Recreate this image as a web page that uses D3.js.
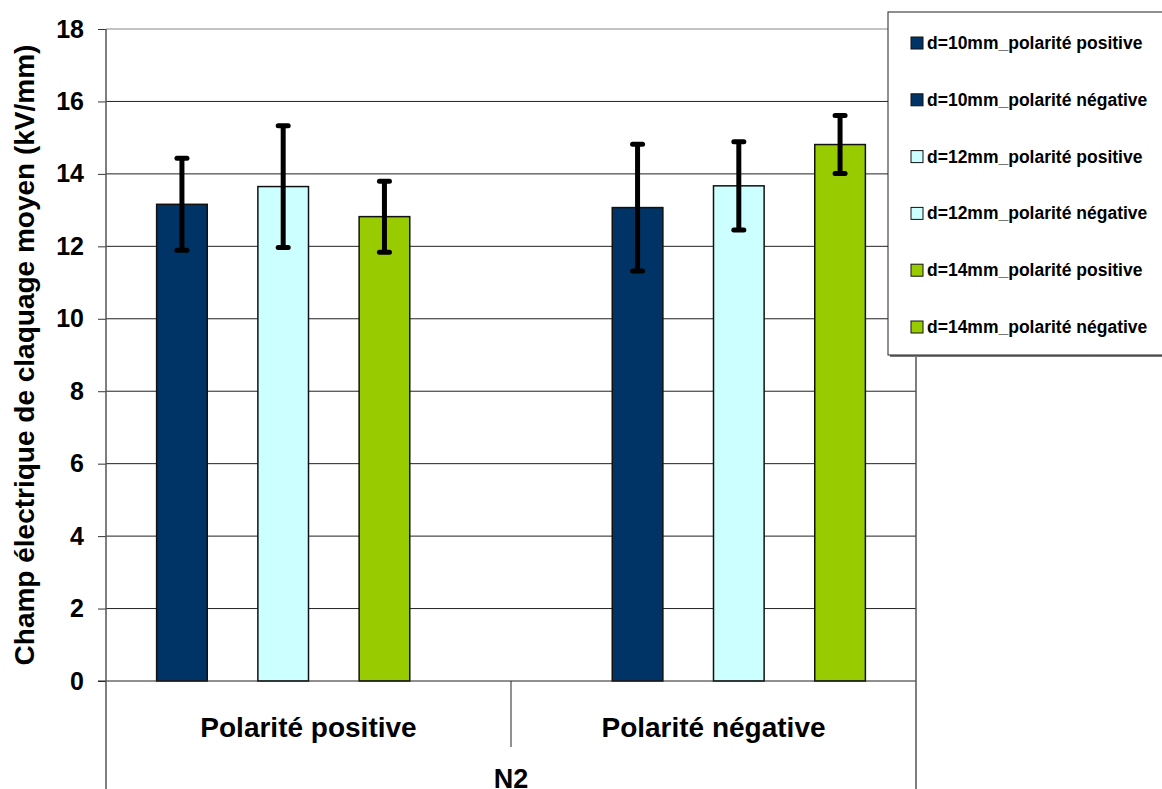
<!DOCTYPE html>
<html>
<head>
<meta charset="utf-8">
<script src="https://cdn.jsdelivr.net/npm/d3@7"></script>
<style>
  body { margin: 0; background: #fff; }
  svg { display: block; font-family: "Liberation Sans", Arial, sans-serif; }
</style>
</head>
<body>
<svg id="chart" width="1162" height="789"></svg>
<script>
// categories and series (Excel style: 6 series, each only filled in one category)
const categories = ["Polarité positive", "Polarité négative"];
const groupLabel = "N2";
const seriesNames = [
  "d=10mm_polarité positive",
  "d=10mm_polarité négative",
  "d=12mm_polarité positive",
  "d=12mm_polarité négative",
  "d=14mm_polarité positive",
  "d=14mm_polarité négative"
];
const seriesColors = ["#003366", "#003366", "#CCFFFF", "#CCFFFF", "#99CC00", "#99CC00"];
// mean value per series, [positive, negative]
const means = [
  [13.16, null],
  [null, 13.07],
  [13.65, null],
  [null, 13.67],
  [12.82, null],
  [null, 14.81]
];
// error bar half-width
const errors = [
  [1.27, null],
  [null, 1.75],
  [1.68, null],
  [null, 1.22],
  [0.98, null],
  [null, 0.80]
];
const yTicks = [0, 2, 4, 6, 8, 10, 12, 14, 16, 18];
const yTitle = "Champ électrique de claquage moyen (kV/mm)";

const svg = d3.select("#chart");
const plotL = 106, plotR = 916, plotT = 29, plotB = 681;

const x0 = d3.scaleBand().domain(categories).range([plotL, plotR]).padding(0);
const x1 = d3.scaleBand().domain(seriesNames).range([0, x0.bandwidth()])
  .paddingInner(0).paddingOuter(1);
const y = d3.scaleLinear().domain([0, 18]).range([plotB, plotT]);

// gridlines
svg.append("g").selectAll("line")
  .data(yTicks.filter(t => t > 0))
  .join("line")
  .attr("x1", plotL).attr("x2", plotR)
  .attr("y1", d => y(d)).attr("y2", d => y(d))
  .attr("stroke", d => d === 18 ? "#888" : "#222")
  .attr("stroke-width", 1);

// y axis
const yAxis = svg.append("g")
  .attr("transform", `translate(${plotL},0)`)
  .call(d3.axisLeft(y).tickValues(yTicks).tickSize(8).tickPadding(14).tickFormat(d3.format("d")));
yAxis.select(".domain").remove();
yAxis.selectAll(".tick line").attr("stroke", "#333");
yAxis.selectAll(".tick text")
  .attr("font-size", 25).attr("font-weight", "bold").attr("fill", "#000")
  .attr("font-family", "Liberation Sans, Arial, sans-serif");

// bars
const rows = [];
seriesNames.forEach((s, i) => {
  categories.forEach((c, j) => {
    if (means[i][j] != null) rows.push({ s, c, v: means[i][j], e: errors[i][j], color: seriesColors[i] });
  });
});

svg.append("g").selectAll("rect")
  .data(rows)
  .join("rect")
  .attr("x", d => x0(d.c) + x1(d.s))
  .attr("y", d => y(d.v))
  .attr("width", x1.bandwidth())
  .attr("height", d => y(0) - y(d.v))
  .attr("fill", d => d.color)
  .attr("stroke", "#111")
  .attr("stroke-width", 1.5);

// error bars
const eb = svg.append("g").selectAll("g").data(rows).join("g")
  .attr("transform", d => `translate(${x0(d.c) + x1(d.s) + x1.bandwidth() / 2},0)`);
eb.append("line")
  .attr("y1", d => y(d.v + d.e)).attr("y2", d => y(d.v - d.e))
  .attr("stroke", "#000").attr("stroke-width", 5);
eb.selectAll("line.cap").data(d => [d.v + d.e, d.v - d.e]).join("line")
  .attr("class", "cap")
  .attr("x1", -5).attr("x2", 5)
  .attr("y1", d => y(d)).attr("y2", d => y(d))
  .attr("stroke", "#000").attr("stroke-width", 5).attr("stroke-linecap", "round");

// zero line and frame
svg.append("line").attr("x1", plotL - 8).attr("x2", plotR)
  .attr("y1", y(0)).attr("y2", y(0)).attr("stroke", "#222").attr("stroke-width", 1.2);
svg.append("line").attr("x1", plotL).attr("x2", plotL)
  .attr("y1", plotT).attr("y2", 789).attr("stroke", "#555").attr("stroke-width", 1.5);
svg.append("line").attr("x1", plotR).attr("x2", plotR)
  .attr("y1", plotT).attr("y2", 789).attr("stroke", "#555").attr("stroke-width", 1.5);
// category divider
svg.append("line")
  .attr("x1", x0(categories[1])).attr("x2", x0(categories[1]))
  .attr("y1", y(0)).attr("y2", 747).attr("stroke", "#222").attr("stroke-width", 1);

// category labels
svg.append("g").selectAll("text")
  .data(categories)
  .join("text")
  .attr("x", d => x0(d) + x0.bandwidth() / 2)
  .attr("y", 737)
  .attr("text-anchor", "middle")
  .attr("font-size", 28).attr("font-weight", "bold")
  .text(d => d);

// outer category label
svg.append("text")
  .attr("x", (plotL + plotR) / 2).attr("y", 788)
  .attr("text-anchor", "middle")
  .attr("font-size", 27).attr("font-weight", "bold")
  .text(groupLabel);

// y title
svg.append("text")
  .attr("transform", `translate(34,${(plotT + plotB) / 2}) rotate(-90)`)
  .attr("text-anchor", "middle")
  .attr("font-size", 28).attr("font-weight", "bold")
  .text(yTitle);

// legend
const lg = svg.append("g").attr("transform", "translate(888,12)");
lg.append("rect").attr("x", 2).attr("y", 2).attr("width", 300).attr("height", 343).attr("fill", "#777");
lg.append("rect").attr("width", 300).attr("height", 343)
  .attr("fill", "#fff").attr("stroke", "#222").attr("stroke-width", 1);
const li = lg.selectAll("g.item").data(seriesNames).join("g")
  .attr("class", "item")
  .attr("transform", (d, i) => `translate(0,${31 + i * 56.8})`);
li.append("rect").attr("x", 23).attr("y", -6).attr("width", 12).attr("height", 12)
  .attr("fill", (d, i) => seriesColors[i]).attr("stroke", "#111").attr("stroke-width", 1);
li.append("text")
  .attr("x", 39).attr("y", 6)
  .attr("font-size", 17.5).attr("font-weight", "bold")
  .text(d => d);
</script>
</body>
</html>
